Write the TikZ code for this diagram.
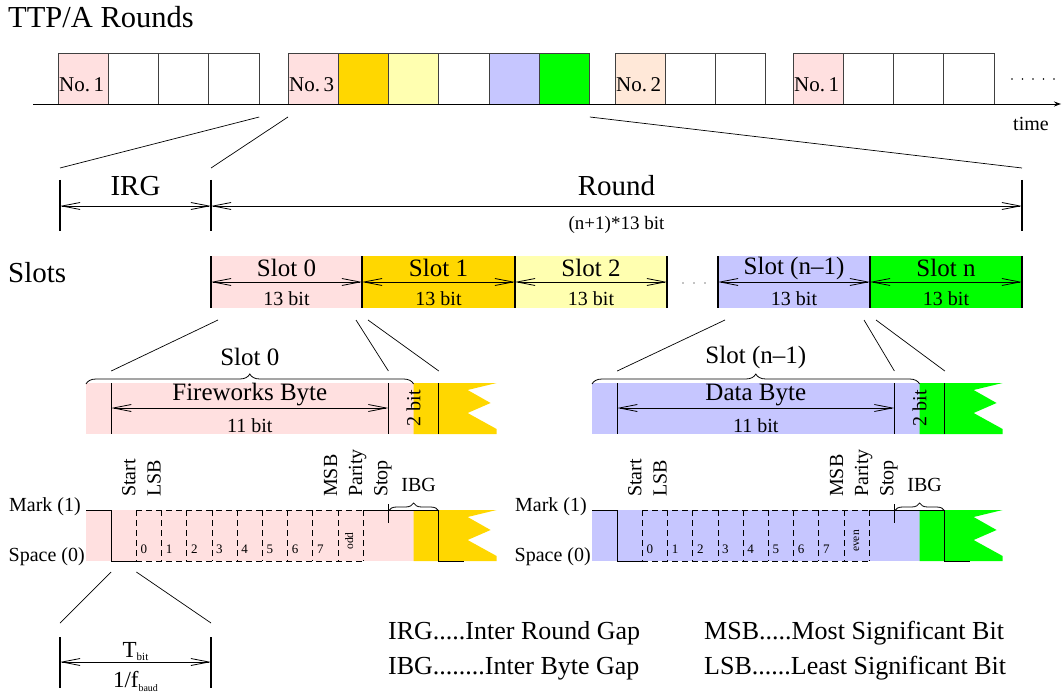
\documentclass[tikz,border=0pt]{standalone}
\usepackage{fontspec}
\setmainfont{Liberation Serif}
\usetikzlibrary{arrows.meta,decorations.pathreplacing}
\definecolor{pinkc}{RGB}{255,224,224}
\definecolor{goldc}{RGB}{255,215,0}
\definecolor{lyelc}{RGB}{255,255,176}
\definecolor{bluec}{RGB}{198,198,255}
\definecolor{greenc}{RGB}{0,255,0}
\definecolor{peachc}{RGB}{255,232,216}
\def\bw{25.2}
\def\tw{50.3}
\tikzset{
 ftitle/.style={font=\fontsize{30.5}{33}\selectfont, inner sep=0pt},
 fbig/.style={font=\fontsize{29}{32}\selectfont, inner sep=0pt},
 fmid/.style={font=\fontsize{25}{27}\selectfont, inner sep=0pt},
 fleg/.style={font=\fontsize{26}{28}\selectfont, inner sep=0pt},
 fsm/.style={font=\fontsize{20}{22}\selectfont, inner sep=0pt},
 fno/.style={font=\fontsize{21}{23}\selectfont, inner sep=0pt},
 frnd/.style={font=\fontsize{19}{21}\selectfont, inner sep=0pt},
 ftiny/.style={font=\fontsize{13}{14}\selectfont, inner sep=0pt},
 fpar/.style={font=\fontsize{11.5}{12}\selectfont, inner sep=0pt},
 dimarrow/.style={line width=0.8pt, {Straight Barb[length=18pt,width=7pt]}-{Straight Barb[length=18pt,width=7pt]}},
 barline/.style={line width=1.1pt},
 zoomline/.style={line width=0.7pt},
 wave/.style={line width=1pt},
 dashwave/.style={line width=0.9pt, dash pattern=on 6pt off 4pt},
 tbox/.style={draw=black!75, line width=0.9pt},
 bracedeco/.style={decorate, line width=0.8pt, decoration={brace, amplitude=#1}},
}
\newcommand{\bytegroup}[7]{%
 \pgfmathsetmacro\gxa{#1}%
 \pgfmathsetmacro\gxb{#1+\bw}%
 \pgfmathsetmacro\gxc{#1+2*\bw}%
 \pgfmathsetmacro\gxk{#1+11*\bw}%
 \pgfmathsetmacro\gxl{#1+12*\bw}%
 \pgfmathsetmacro\gxm{#1+13*\bw}%
 \pgfmathsetmacro\gxn{#1+14*\bw}%
 \pgfmathsetmacro\gxo{#1+15*\bw}%
 \pgfmathsetmacro\gxt{#1+13*\bw+83}%
 \pgfmathsetmacro\gxi{\gxt-29}%
 \pgfmathsetmacro\gxj{\gxt-6}%
 \pgfmathsetmacro\gxh{(\gxb+\gxl)/2}%
 \pgfmathsetmacro\gxs{(\gxa+\gxm)/2}%
 \coordinate (#7bL) at (\gxb,371);
 \coordinate (#7bR) at (\gxl,371);
 \coordinate (#7bN) at (\gxn,371);
 \coordinate (#7sA) at (\gxb,572);
 \coordinate (#7sB) at (\gxc,572);
 % byte row
 \fill[#2] (\gxa,383) rectangle (\gxm,434);
 \fill[#3] (\gxm,383) -- (\gxt,383) -- (\gxi,390) -- (\gxj,403) -- (\gxi,413) -- (\gxt,429) -- (\gxt,434) -- (\gxm,434) -- cycle;
 \draw[barline] (\gxb,383) -- (\gxb,434);
 \draw[barline] (\gxl,383) -- (\gxl,434);
 \draw[barline] (\gxn,383) -- (\gxn,434);
 \draw[dimarrow] (\gxb,408) -- (\gxl,408);
 \node[fmid] (#7byte) at (\gxh,395) {#4};
 \node[fsm] (#7eleven) at (\gxh,426) {11 bit};
 \node[fsm, rotate=90] (#7two) at (\gxm,408) {2 bit};
 \draw[bracedeco=10pt] (\gxa,384) -- (\gxm,384);
 \node[fmid] (#7slot) at (\gxs,357) {#5};
 % signal row
 \fill[#2] (\gxa,510) rectangle (\gxm,561);
 \fill[#3] (\gxm,510) -- (\gxt,510) -- (\gxi,517) -- (\gxj,530) -- (\gxi,540) -- (\gxt,556) -- (\gxt,561) -- (\gxm,561) -- cycle;
 \draw[wave] (\gxa,510) -- (\gxb,510) -- (\gxb,561) -- (\gxc,561);
 \draw[wave] (\gxk,510) -- (\gxn,510) -- (\gxn,561) -- (\gxo,561);
 \draw[dashwave] (\gxc,510) -- (\gxk,510);
 \draw[dashwave] (\gxc,561) -- (\gxk,561);
 \foreach \i in {0,...,9} \draw[dashwave] ({\gxc+\i*\bw},510) -- ({\gxc+\i*\bw},561);
 \foreach \i in {0,...,7} \node[ftiny, anchor=base west] at ({\gxc+\i*\bw+4},553) {\i};
 \node[fpar, rotate=90, anchor=base] (#7par) at ({\gxk-10},541) {#6};
 \node[fsm, rotate=90, anchor=base west] (#7start) at ({\gxc-1},497) {Start};
 \node[fsm, rotate=90, anchor=base west] (#7lsb) at ({\gxc+\bw-1},497) {LSB};
 \node[fsm, rotate=90, anchor=base west] (#7msb) at ({\gxk-\bw-1},497) {MSB};
 \node[fsm, rotate=90, anchor=base west] (#7parity) at ({\gxk-1},497) {Parity};
 \node[fsm, rotate=90, anchor=base west] (#7stop) at ({\gxl-1},497) {Stop};
 \draw[bracedeco=8pt] (\gxl,511) -- (\gxn,511);
 \draw[line width=0.8pt] (\gxl,504) -- (\gxl,523);
 \node[fsm] (#7ibg) at ({\gxm+5},485) {IBG};
 \node[fsm, anchor=base east] (#7mark) at ({\gxa-5},511) {Mark (1)};
 \node[fsm, anchor=base east] (#7space) at ({\gxa-1},561) {Space (0)};
}
\begin{document}
\begin{tikzpicture}[x=1pt,y=-1pt]
\useasboundingbox (0,0) rectangle (1062,695);
% ---------- title and rounds timeline
\node[ftitle, anchor=base west] (title) at (8,28) {TTP/A Rounds};
\foreach \c [count=\k from 0] in {pinkc,white,white,white}
  \draw[tbox, fill=\c] ({58+\k*\tw},53) rectangle ({58+(\k+1)*\tw},104);
\foreach \c [count=\k from 0] in {pinkc,goldc,lyelc,white,bluec,greenc}
  \draw[tbox, fill=\c] ({288+\k*\tw},53) rectangle ({288+(\k+1)*\tw},104);
\foreach \c [count=\k from 0] in {peachc,white,white}
  \draw[tbox, fill=\c] ({615+\k*\tw},53) rectangle ({615+(\k+1)*\tw},104);
\foreach \c [count=\k from 0] in {pinkc,white,white,white}
  \draw[tbox, fill=\c] ({793+\k*\tw},53) rectangle ({793+(\k+1)*\tw},104);
\node[fno, anchor=west] (n1a) at (59,85) {No.\,1};
\node[fno, anchor=west] (n3) at (289,85) {No.\,3};
\node[fno, anchor=west] (n2) at (616,85) {No.\,2};
\node[fno, anchor=west] (n1b) at (794,85) {No.\,1};
\coordinate (tl0) at (33,104);
\coordinate (tl1) at (1061,104);
\draw[line width=0.9pt, -{Stealth[length=7pt,width=5pt]}] (tl0) -- (tl1);
\foreach \i in {0,...,4} \fill (1012+\i*10.5,79) circle (0.8);
\node[fsm] (time) at (1031,124) {time};
% ---------- zoom lines to round
\coordinate (gAe) at (259.2,117);
\coordinate (gBs) at (288,117);
\coordinate (gBe) at (589.8,117);
\coordinate (irgL) at (60,168);
\coordinate (irgR) at (211,168);
\coordinate (rndR) at (1022,168);
\draw[zoomline] (gAe) -- (irgL);
\draw[zoomline] (gBs) -- (irgR);
\draw[zoomline] (gBe) -- (rndR);
% ---------- IRG / Round
\draw[barline] (60,180) -- (60,231);
\draw[barline] (211,180) -- (211,231);
\draw[barline] (1022,180) -- (1022,231);
\draw[dimarrow] (60,206) -- (211,206);
\draw[dimarrow] (211,206) -- (1022,206);
\node[fbig] (irg) at (135.5,186) {IRG};
\node[fbig] (round) at (616.5,186) {Round};
\node[frnd] (roundbits) at (616.5,225) {(n+1)*13 bit};
% ---------- Slots
\node[fbig, anchor=base west] (slots) at (8,282) {Slots};
\fill[pinkc] (211,256) rectangle (362,308);
\fill[goldc] (362,256) rectangle (515,308);
\fill[lyelc] (515,256) rectangle (667,308);
\fill[bluec] (718,256) rectangle (870,308);
\fill[greenc] (870,256) rectangle (1022,308);
\foreach \x in {211,362,515,667,718,870,1022} \draw[barline] (\x,256) -- (\x,308);
\foreach \a/\b/\t in {211/362/Slot 0, 362/515/Slot 1, 515/667/Slot 2, 718/870/Slot (n\textendash1), 870/1022/Slot n}{
  \draw[dimarrow] (\a,282) -- (\b,282);
  \node[fmid] at ({(\a+\b)/2},268) {\t};
  \node[fsm] at ({(\a+\b)/2},299) {13 bit};
}
\foreach \i in {0,1,2} \fill (683+\i*11,283) circle (0.7);
% ---------- byte detail groups
\bytegroup{86}{pinkc}{goldc}{Fireworks Byte}{Slot 0}{odd}{L}
\bytegroup{592}{bluec}{greenc}{Data Byte}{Slot (n\textendash1)}{even}{R}
% zoom lines slots -> bytes
\coordinate (s0a) at (218,320);
\coordinate (s0b) at (356,320);
\coordinate (s0c) at (368,320);
\coordinate (sna) at (725,320);
\coordinate (snb) at (864,320);
\coordinate (snc) at (876,320);
\draw[zoomline] (s0a) -- (LbL);
\draw[zoomline] (s0b) -- (LbR);
\draw[zoomline] (s0c) -- (LbN);
\draw[zoomline] (sna) -- (RbL);
\draw[zoomline] (snb) -- (RbR);
\draw[zoomline] (snc) -- (RbN);
% ---------- bit time
\coordinate (tbL) at (60,623);
\coordinate (tbR) at (211,623);
\draw[zoomline] (LsA) -- (tbL);
\draw[zoomline] (LsB) -- (tbR);
\draw[barline] (60,637) -- (60,688);
\draw[barline] (211,637) -- (211,688);
\draw[dimarrow] (60,662) -- (211,662);
\node[font=\fontsize{23}{25}\selectfont, inner sep=0pt, anchor=base] (tbit) at (135.5,657) {T\raisebox{-0.35ex}{\fontsize{11}{12}\selectfont bit}};
\node[font=\fontsize{23}{25}\selectfont, inner sep=0pt, anchor=base] (fbaud) at (135.5,687) {1/f\raisebox{-0.45ex}{\fontsize{10}{11}\selectfont baud}};
% ---------- legend
\node[fleg, anchor=base west] (leg1) at (388,639) {IRG.....Inter Round Gap};
\node[fleg, anchor=base west] (leg2) at (388,674) {IBG........Inter Byte Gap};
\node[fleg, anchor=base west] (leg3) at (704,639) {MSB.....Most Significant Bit};
\node[fleg, anchor=base west] (leg4) at (704,674) {LSB......Least Significant Bit};
\end{tikzpicture}
\end{document}
